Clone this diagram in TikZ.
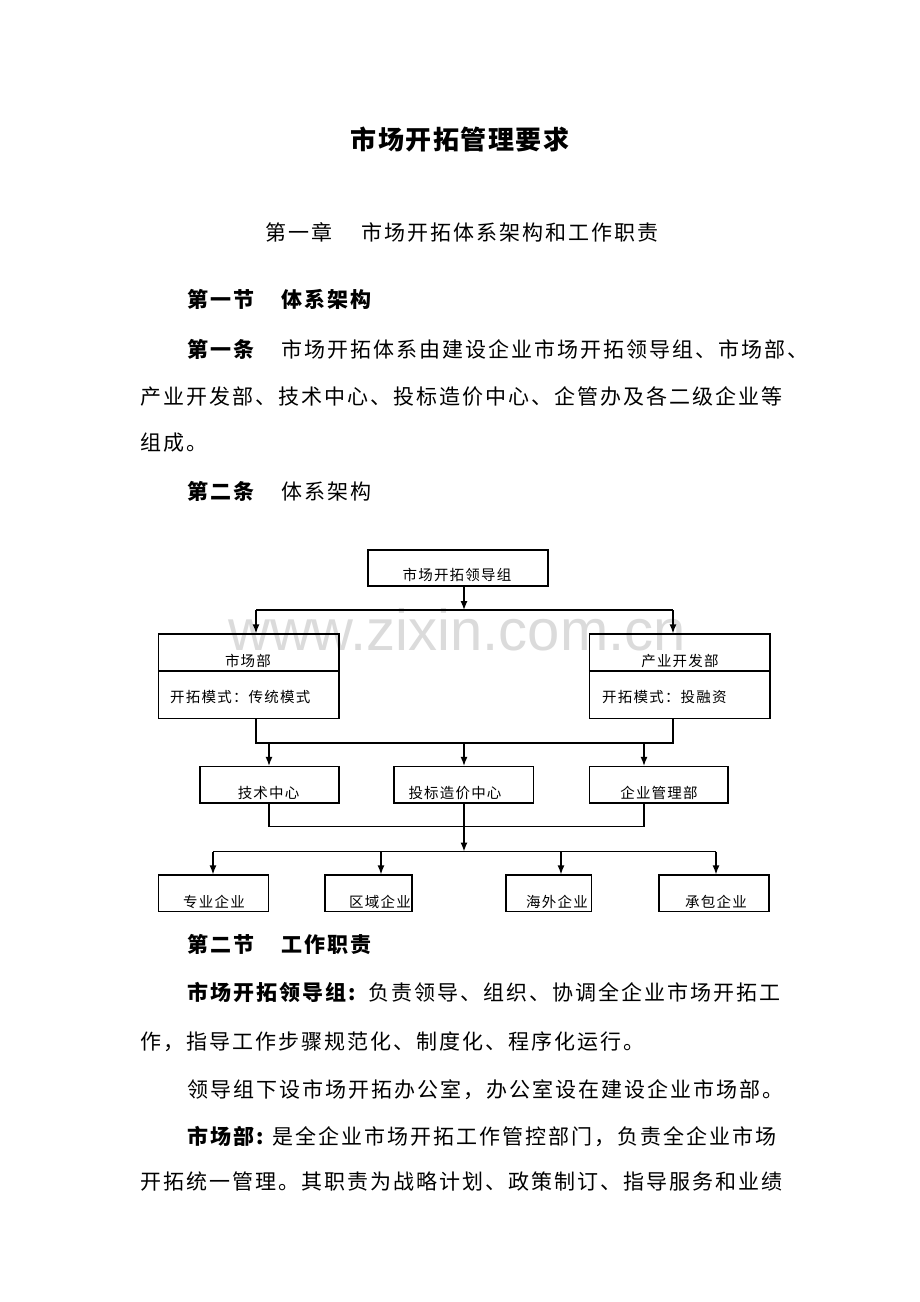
\documentclass[tikz,border=0pt]{standalone}
\usepackage{fontspec}
\setmainfont{Noto Sans CJK SC}
\newfontfamily\wmfont{Liberation Sans}
\usetikzlibrary{arrows.meta}
\makeatletter
\newcommand\spc[2]{\@tfor\sp@x:=#2\do{\sp@x\hskip#1\relax}\unskip}
\makeatother
\newcommand\B[1]{\spc{2pt}{#1}}
\newcommand\D[1]{\spc{1.2pt}{#1}}
\tikzset{
  body/.style={inner sep=0pt, anchor=base west, font={\fontsize{21pt}{25pt}\selectfont}},
  bodyb/.style={inner sep=0pt, anchor=base west, font={\fontsize{21pt}{25pt}\selectfont\bfseries}},
  titlet/.style={inner sep=0pt, anchor=base, font={\fontsize{26pt}{30pt}\selectfont\bfseries}},
  dt/.style={inner sep=0pt, anchor=base, font={\fontsize{14.5pt}{16pt}\selectfont}},
  dtw/.style={dt, anchor=base west},
  box/.style={draw, line width=1.3pt, inner sep=0pt},
  ln/.style={line width=1.3pt},
  arr/.style={line width=1.3pt, -{Latex[length=9pt,width=7pt]}},
  wm/.style={inner sep=0pt, anchor=base, text=black!14, font={\fontsize{58pt}{60pt}\wmfont}}
}
\begin{document}
\begin{tikzpicture}[x=1pt,y=-1pt]
\useasboundingbox (0,0) rectangle (920,1302);
\fill[white] (0,0) rectangle (920,1302);
% watermark
\node[wm] (wmark) at (457,650) {www.zixin.com.cn};

% page text
\node[titlet] (title) at (460,149.5) {\spc{1.5pt}{市场开拓管理要求}};
\node[body] (ch1a) at (265,240.6) {\B{第一章}};
\node[body] (ch1b) at (361,240.6) {\B{市场开拓体系架构和工作职责}};
\node[bodyb] (s1a) at (187,307.6) {\B{第一节}};
\node[bodyb] (s1b) at (281,307.6) {\B{体系架构}};
\node[bodyb] (a1a) at (187,357.6) {\B{第一条}};
\node[body] (a1b) at (281,357.6) {\B{市场开拓体系由建设企业市场开拓领导组、市场部、}};
\node[body] (a1c) at (140,404.6) {\B{产业开发部、技术中心、投标造价中心、企管办及各二级企业等}};
\node[body] (a1d) at (140,450.6) {\B{组成。}};
\node[bodyb] (a2a) at (187,499.6) {\B{第二条}};
\node[body] (a2b) at (281,499.6) {\B{体系架构}};

\node[bodyb] (s2a) at (187,952.6) {\B{第二节}};
\node[bodyb] (s2b) at (281,952.6) {\B{工作职责}};
\node[bodyb] (p1a) at (187,1000.6) {\B{市场开拓领导组:}};
\node[body] (p1b) at (368,1000.6) {\B{负责领导、组织、协调全企业市场开拓工}};
\node[body] (p1c) at (140,1049.6) {\B{作，指导工作步骤规范化、制度化、程序化运行。}};
\node[body] (p2) at (187,1097.6) {\B{领导组下设市场开拓办公室，办公室设在建设企业市场部。}};
\node[bodyb] (p3a) at (187,1144.6) {\B{市场部:}};
\node[body] (p3b) at (272,1144.6) {\B{是全企业市场开拓工作管控部门，负责全企业市场}};
\node[body] (p3c) at (140,1189.6) {\B{开拓统一管理。其职责为战略计划、政策制订、指导服务和业绩}};

% diagram boxes
\node[box, minimum width=180pt, minimum height=36pt] (lead) at (458,568) {};
\node[dt] (leadt) at (457,580) {\D{市场开拓领导组}};

\node[box, minimum width=180.5pt, minimum height=84.5pt] (mkt) at (248.75,676.25) {};
\node[box, minimum width=180.5pt, minimum height=84.5pt] (dev) at (679.75,676.25) {};
\coordinate (div) at (0,671);
\draw[ln] (mkt.west |- div) -- (mkt.east |- div);
\draw[ln] (dev.west |- div) -- (dev.east |- div);
\node[dt] (mktt) at (248,666.5) {\D{市场部}};
\node[dtw] (mktm) at (170,702) {\D{开拓模式：传统模式}};
\node[dt] (devt) at (680,666.5) {\D{产业开发部}};
\node[dtw] (devm) at (602,702) {\D{开拓模式：投融资}};

\node[box, minimum width=139pt, minimum height=36.5pt] (tech) at (269.5,784.75) {};
\node[box, minimum width=139.5pt, minimum height=36.5pt] (bid) at (463.75,784.75) {};
\node[box, minimum width=138.3pt, minimum height=36.5pt] (mgmt) at (658.85,784.75) {};
\node[dt] (techt) at (268.6,798.2) {\D{技术中心}};
\node[dt] (bidt) at (455,798.2) {\D{投标造价中心}};
\node[dt] (mgmtt) at (659,798.2) {\D{企业管理部}};

\node[box, minimum width=110pt, minimum height=36.7pt] (e1) at (213.6,893.35) {};
\node[box, minimum width=87pt, minimum height=36.7pt] (e2) at (368.5,893.35) {};
\node[box, minimum width=85.7pt, minimum height=36.7pt] (e3) at (548.85,893.35) {};
\node[box, minimum width=110pt, minimum height=36.7pt] (e4) at (714,893.35) {};
\node[dt] (e1t) at (214,907) {\D{专业企业}};
\node[dt] (e2t) at (380,907) {\D{区域企业}};
\node[dt] (e3t) at (557,907) {\D{海外企业}};
\node[dt] (e4t) at (716,907) {\D{承包企业}};

% connectors level 1
\coordinate (j1) at (464,610);
\coordinate (aL) at (256,610);
\coordinate (aR) at (673,610);
\draw[arr] (lead.south -| j1) -- (j1);
\draw[ln] (aL) -- (aR);
\draw[arr] (aL) -- (aL |- mkt.north);
\draw[arr] (aR) -- (aR |- dev.north);

% level 2
\coordinate (h2) at (464,743);
\coordinate (bT) at (269,743);
\coordinate (bE) at (644,743);
\draw[ln] (mkt.south -| aL) -- (aL |- h2) -- (aR |- h2) -- (dev.south -| aR);
\draw[arr] (bT) -- (bT |- tech.north);
\draw[arr] (h2) -- (h2 |- bid.north);
\draw[arr] (bE) -- (bE |- mgmt.north);

% level 3
\coordinate (h3) at (464,826.5);
\coordinate (j3) at (464,851.5);
\draw[ln] (tech.south -| bT) -- (bT |- h3) -- (bE |- h3) -- (mgmt.south -| bE);
\draw[arr] (bid.south -| j3) -- (j3);
\coordinate (c1) at (213,851.5);
\coordinate (c2) at (381,851.5);
\coordinate (c3) at (561,851.5);
\coordinate (c4) at (716,851.5);
\draw[ln] (c1) -- (c4);
\draw[arr] (c1) -- (c1 |- e1.north);
\draw[arr] (c2) -- (c2 |- e2.north);
\draw[arr] (c3) -- (c3 |- e3.north);
\draw[arr] (c4) -- (c4 |- e4.north);
\end{tikzpicture}
\end{document}
